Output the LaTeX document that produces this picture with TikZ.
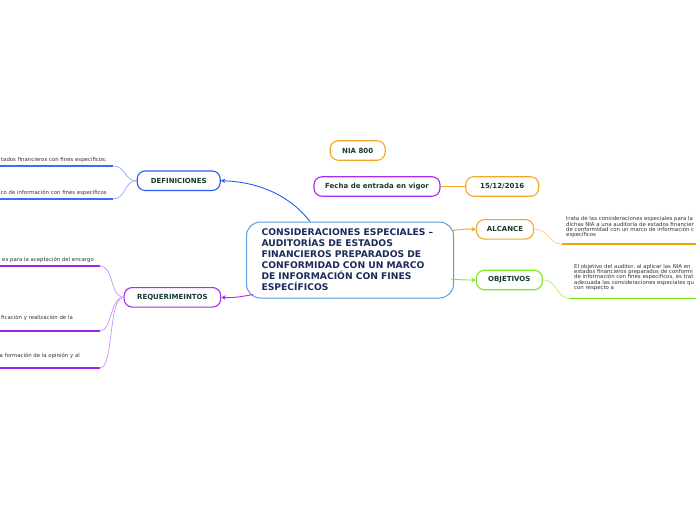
\documentclass[tikz,border=0pt]{standalone}
\usepackage{fontspec}
\setmainfont{DejaVu Sans}
\usetikzlibrary{arrows.meta,calc,backgrounds}
\newcommand\mytightlines{\lineskiplimit=-5pt\relax}
\definecolor{blueN}{HTML}{2B5CF0}
\definecolor{blueU}{HTML}{3D6BFF}
\definecolor{blueL}{HTML}{8DA8FF}
\definecolor{purpN}{HTML}{A52CF0}
\definecolor{purpU}{HTML}{A020F0}
\definecolor{purpL}{HTML}{C890F8}
\definecolor{orN}{HTML}{F5A52A}
\definecolor{orU}{HTML}{F5A300}
\definecolor{orL}{HTML}{F9CF8A}
\definecolor{greenN}{HTML}{7DE81E}
\definecolor{greenU}{HTML}{6FE000}
\definecolor{greenL}{HTML}{B0F070}
\definecolor{cenB}{HTML}{5AA0DC}
\definecolor{lbl}{HTML}{173B30}
\definecolor{navy}{HTML}{1C2B5A}
\definecolor{txt}{HTML}{333333}
\tikzset{
  topic/.style={draw, rounded corners=8pt, line width=1.1pt, minimum height=19.5pt,
    inner sep=0pt, font=\fontsize{7}{8}\selectfont\bfseries, text=lbl, fill=white},
  central/.style={draw=cenB, rounded corners=14pt, line width=1pt, fill=white,
    minimum width=207pt, minimum height=76pt, inner xsep=15pt, inner ysep=0pt,
    text width=177pt, align=left, text=navy, font={\fontsize{9.2}{11}\selectfont\bfseries\mytightlines}},
  leaf/.style={inner sep=0pt, text=txt, font=\fontsize{5.4}{5.3}\selectfont},
  para/.style={inner sep=0pt, text=txt, align=left, font={\fontsize{5.4}{5.3}\selectfont\mytightlines}},
  mainarrow/.style={line width=0.9pt, -{Stealth[length=4.5pt,width=4.5pt]}},
  uline/.style={line width=1.8pt},
  thin/.style={line width=0.7pt},
}
\begin{document}
\begin{tikzpicture}[x=1pt,y=-1pt]
\useasboundingbox (0,0) rectangle (696,520);
\clip (0,0) rectangle (696,520);

% central
\node[central] (c) at (350,260) {CONSIDERACIONES ESPECIALES –\\AUDITORÍAS DE ESTADOS\\FINANCIEROS PREPARADOS DE\\CONFORMIDAD CON UN MARCO\\DE INFORMACIÓN CON FINES\\ESPECÍFICOS};

% topics
\node[topic, draw=blueN, minimum width=83pt] (def) at (178.7,180.7) {DEFINICIONES};
\node[topic, draw=purpN, minimum width=96.5pt] (req) at (172.4,297.3) {REQUERIMEINTOS};
\node[topic, draw=orN, minimum width=55pt] (nia) at (357.7,150.5) {NIA 800};
\node[topic, draw=purpN, minimum width=126pt] (fecha) at (377,186.5) {Fecha de entrada en vigor};
\node[topic, draw=orN, minimum width=73pt] (date) at (502.2,186.5) {15/12/2016};
\node[topic, draw=orN, minimum width=57pt] (alc) at (505,229.3) {ALCANCE};
\node[topic, draw=greenN, minimum width=66pt] (obj) at (509.3,280) {OBJETIVOS};

% main arrows
\coordinate (cb) at ($(c.north west)+(64,0)$);
\coordinate (cp) at ($(c.south west)+(7,-4)$);
\coordinate (co) at ($(c.north east)+(-1,9)$);
\coordinate (cg) at ($(c.east)+(-3,19)$);
\draw[mainarrow, blueN] (cb) .. controls (292,198) and (262,182) .. (def.east);
\draw[mainarrow, purpN] (cp) .. controls (240,297) and (232,298) .. (req.east);
\draw[mainarrow, orN] (co) .. controls (462,229) and (468,229) .. (alc.west);
\draw[mainarrow, greenN] (cg) .. controls (462,280) and (468,280) .. (obj.west);
\draw[thin, orN] (fecha) -- (date);

% definiciones leaves
\coordinate (d1) at (113,166);
\coordinate (d2) at (113,199);
\coordinate (d1s) at (0,166);
\coordinate (d2s) at (0,199);
\draw[uline, blueU] (d1s) -- (d1);
\draw[uline, blueU] (d2s) -- (d2);
\draw[thin, blueL] (def.west) .. controls (124,180.7) and (126,166) .. (d1);
\draw[thin, blueL] (def.west) .. controls (124,180.7) and (126,199) .. (d2);
\node[leaf, anchor=base east] (dt1) at (107,161.7) {tados financieros con fines específicos:};
\node[leaf, anchor=base east] (dt2) at (107,194.5) {co de información con fines específicos};

% requerimientos leaves
\coordinate (r1) at (100,266);
\coordinate (r2) at (100,331);
\coordinate (r3) at (100,368);
\coordinate (r1s) at (0,266);
\coordinate (r2s) at (0,331);
\coordinate (r3s) at (0,368);
\draw[uline, purpU] (r1s) -- (r1);
\draw[uline, purpU] (r2s) -- (r2);
\draw[uline, purpU] (r3s) -- (r3);
\draw[thin, purpL] (req.west) .. controls (110,297.3) and (114,266) .. (r1);
\draw[thin, purpL] (req.west) .. controls (110,297.3) and (112,331) .. (r2);
\draw[thin, purpL] (req.west) .. controls (108,297.3) and (114,368) .. (r3);
\node[leaf, anchor=base east] (rt1) at (94,261.6) {es para la aceptación del encargo};
\node[leaf, anchor=base east] (rt2) at (73,319.6) {ficación y realización de la};
\node[leaf, anchor=base east] (rt3) at (80,357.6) {a formación de la opinión y al};

% alcance leaf
\coordinate (a1) at (562,244);
\coordinate (a1e) at (696,244);
\draw[uline, orU] (a1) -- (a1e);
\draw[thin, orL] (alc.east) .. controls (550,229.3) and (548,244) .. (a1);
\node[para, anchor=north west] (at) at (566,216.6) {trata de las consideraciones especiales para la\\dichas NIA a una auditoría de estados financier\\de conformidad con un marco de información c\\específicos};

% objetivos leaf
\coordinate (o1) at (570,298.5);
\coordinate (o1e) at (696,298.5);
\draw[uline, greenU] (o1) -- (o1e);
\draw[thin, greenL] (obj.east) .. controls (558,280) and (556,298.5) .. (o1);
\node[para, anchor=north west] (ot) at (574,264) {El objetivo del auditor, al aplicar las NIA en\\estados financieros preparados de conformi\\de información con fines específicos, es trat\\adecuada las consideraciones especiales qu\\con respecto a};
\end{tikzpicture}
\end{document}
